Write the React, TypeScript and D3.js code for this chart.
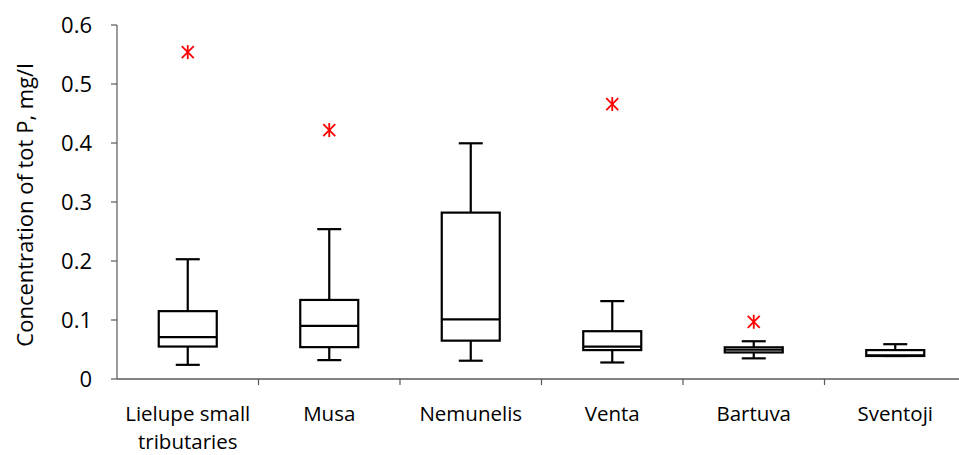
import React from "react";
import * as d3 from "d3";

const categories = ["Lielupe small tributaries", "Musa", "Nemunelis", "Venta", "Bartuva", "Sventoji"];
const labelLines = [["Lielupe small", "tributaries"], ["Musa"], ["Nemunelis"], ["Venta"], ["Bartuva"], ["Sventoji"]];
const whiskerLow = [0.024, 0.032, 0.031, 0.028, 0.035, 0.039];
const q1 = [0.055, 0.054, 0.065, 0.049, 0.045, 0.039];
const median = [0.071, 0.090, 0.101, 0.055, 0.0496, 0.040];
const q3 = [0.115, 0.134, 0.282, 0.081, 0.0537, 0.049];
const whiskerHigh = [0.203, 0.254, 0.3995, 0.132, 0.064, 0.059];
const outliers: (number | null)[] = [0.554, 0.422, null, 0.466, 0.097, null];
const yTicks = [0, 0.1, 0.2, 0.3, 0.4, 0.5, 0.6];

const W = 959, H = 455;
const left = 117, top = 25, bottom = 379;
const bandW = 141.5;

export default function App() {
  const x = d3.scaleBand<string>().domain(categories).range([left, left + bandW * categories.length]).padding(0);
  const y = d3.scaleLinear().domain([0, 0.6]).range([bottom, top]);
  const font = "'Open Sans', sans-serif";
  const fs = 22;
  const xfs = 20.5;
  const boxW = 58, capW = 12;
  const axisColor = "#595959";
  return (
    <svg width={W} height={H} style={{ position: "absolute", left: 0, top: 0, background: "#fff" }} fontFamily={font}>
      {/* y axis */}
      <line x1={left} x2={left} y1={top} y2={bottom} stroke={axisColor} strokeWidth={1.2} />
      {yTicks.map((t) => (
        <g key={t}>
          <line x1={left - 6} x2={left} y1={y(t)} y2={y(t)} stroke={axisColor} strokeWidth={1.2} />
          <text x={92} y={y(t)} dy="0.36em" textAnchor="end" fontSize={fs} fill="#000">{String(t)}</text>
        </g>
      ))}
      {/* x axis */}
      <line x1={left} x2={left + bandW * categories.length} y1={bottom} y2={bottom} stroke={axisColor} strokeWidth={1.5} />
      {categories.map((c) => (
        <line key={c} x1={x(c)! + bandW} x2={x(c)! + bandW} y1={bottom} y2={bottom + 6} stroke={axisColor} strokeWidth={1.2} />
      ))}
      {categories.map((c, i) => {
        const cx = x(c)! + x.bandwidth() / 2;
        return (
          <text key={c} x={cx} textAnchor="middle" fontSize={xfs} fill="#000">
            {labelLines[i].map((l, j) => (
              <tspan key={j} x={cx} y={421 + j * 28}>{l}</tspan>
            ))}
          </text>
        );
      })}
      {/* boxes */}
      {categories.map((c, i) => {
        const cx = x(c)! + x.bandwidth() / 2;
        const o = outliers[i];
        return (
          <g key={c} stroke="#000" strokeWidth={2.2} fill="none">
            <line x1={cx} x2={cx} y1={y(whiskerHigh[i])} y2={y(q3[i])} />
            <line x1={cx} x2={cx} y1={y(q1[i])} y2={y(whiskerLow[i])} />
            <line x1={cx - capW} x2={cx + capW} y1={y(whiskerHigh[i])} y2={y(whiskerHigh[i])} />
            <line x1={cx - capW} x2={cx + capW} y1={y(whiskerLow[i])} y2={y(whiskerLow[i])} />
            <rect x={cx - boxW / 2} y={y(q3[i])} width={boxW} height={y(q1[i]) - y(q3[i])} fill="#fff" />
            <line x1={cx - boxW / 2} x2={cx + boxW / 2} y1={y(median[i])} y2={y(median[i])} />
            {o !== null && (
              <g stroke="#ff0000" strokeWidth={1.8}>
                <line x1={cx} x2={cx} y1={y(o) - 7} y2={y(o) + 7} />
                <line x1={cx - 6} x2={cx + 6} y1={y(o) - 6} y2={y(o) + 6} />
                <line x1={cx - 6} x2={cx + 6} y1={y(o) + 6} y2={y(o) - 6} />
              </g>
            )}
          </g>
        );
      })}
      <text transform={`translate(33, 205) rotate(-90)`} textAnchor="middle" fontSize={fs} fill="#000">
        Concentration of tot P, mg/l
      </text>
    </svg>
  );
}
